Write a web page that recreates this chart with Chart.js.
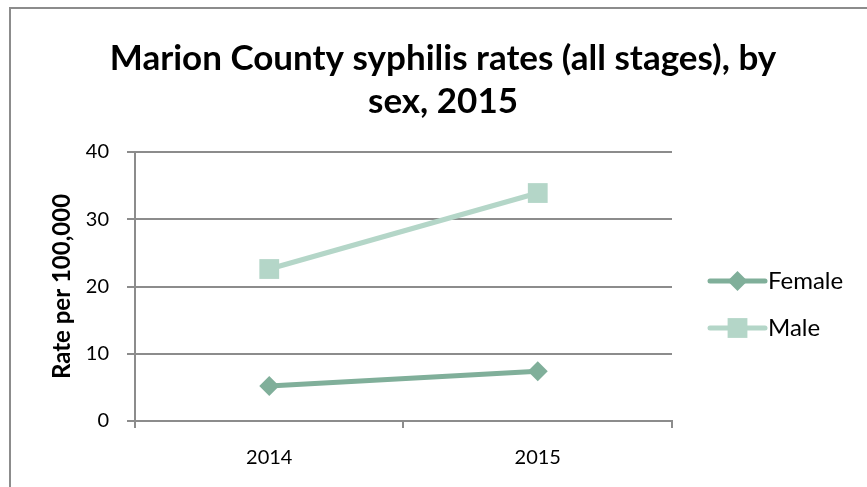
<!DOCTYPE html>
<html>
<head>
<meta charset="utf-8">
<script src="https://cdn.jsdelivr.net/npm/chart.js@4"></script>
<style>
    html, body { margin: 0; padding: 0; background: #fff; }
    #wrap { position: relative; width: 867px; height: 487px; }
    #frame { position: absolute; left: 9px; top: 7px; width: 900px; height: 478px;
             border-left: 2px solid #8c8c8c; border-top: 2px solid #8c8c8c; border-bottom: 1px solid #e4e4e4; }
    canvas { position: absolute; left: 0; top: 0; }
</style>
</head>
<body>
<div id="wrap">
    <div id="frame"></div>
    <canvas id="chart" width="867" height="487"></canvas>
</div>
<script>
const years = ['2014', '2015'];
const femaleRates = [5.2, 7.4];
const maleRates = [22.6, 33.9];
const yTicks = [0, 10, 20, 30, 40];
const titleLines = ['Marion County syphilis rates (all stages), by', 'sex, 2015'];

const fontFamily = 'Lato, "Open Sans", sans-serif';

// title centred on the whole frame, not on the plot
const frameTitle = {
    id: 'frameTitle',
    afterDraw(chart) {
        const ctx = chart.ctx;
        ctx.save();
        ctx.fillStyle = '#000';
        ctx.font = 'bold 35px ' + fontFamily;
        ctx.textAlign = 'center';
        ctx.textBaseline = 'alphabetic';
        ctx.fillText(titleLines[0], 443, 70);
        ctx.fillText(titleLines[1], 443, 113);
        ctx.restore();
    }
};

// legend drawn as line + marker, like the spreadsheet one
const lineLegend = {
    id: 'lineLegend',
    afterDraw(chart) {
        const ctx = chart.ctx;
        const x0 = 710, x1 = 765;
        const rows = [281, 328];
        chart.data.datasets.forEach((ds, i) => {
            const y = rows[i];
            ctx.save();
            ctx.strokeStyle = ds.borderColor;
            ctx.lineWidth = ds.borderWidth;
            ctx.lineCap = 'round';
            ctx.beginPath();
            ctx.moveTo(x0, y);
            ctx.lineTo(x1, y);
            ctx.stroke();
            ctx.fillStyle = ds.backgroundColor;
            Chart.helpers.drawPoint(ctx, {
                pointStyle: ds.pointStyle,
                radius: ds.pointRadius,
                rotation: 0,
                borderWidth: 0
            }, (x0 + x1) / 2, y);
            ctx.fillStyle = '#000';
            ctx.font = '24px ' + fontFamily;
            ctx.textBaseline = 'middle';
            ctx.fillText(ds.label, x1 + 3, y);
            ctx.restore();
        });
    }
};

new Chart(document.getElementById('chart').getContext('2d'), {
    type: 'line',
    data: {
        labels: years,
        datasets: [{
            label: 'Female',
            data: femaleRates,
            borderColor: '#80af9a',
            backgroundColor: '#80af9a',
            borderWidth: 5,
            pointStyle: 'rectRot',
            pointRadius: 10,
            pointHoverRadius: 10,
            pointBorderWidth: 0
        }, {
            label: 'Male',
            data: maleRates,
            borderColor: '#b4d6c8',
            backgroundColor: '#b4d6c8',
            borderWidth: 5,
            pointStyle: 'rect',
            pointRadius: 14,
            pointHoverRadius: 14,
            pointBorderWidth: 0
        }]
    },
    options: {
        responsive: false,
        animation: false,
        layout: { padding: { left: 27, right: 195, top: 152, bottom: -1 } },
        plugins: {
            legend: { display: false },
            tooltip: { enabled: false },
            title: { display: false }
        },
        scales: {
            x: {
                offset: true,
                grid: { offset: true, drawOnChartArea: false, drawTicks: true, tickLength: 7, color: '#8c8c8c', lineWidth: 2 },
                border: { color: '#8c8c8c', width: 2 },
                ticks: { color: '#000', font: { family: fontFamily, size: 20 }, padding: 18 }
            },
            y: {
                min: 0,
                max: 40,
                afterBuildTicks(axis) { axis.ticks = yTicks.map(v => ({ value: v })); },
                grid: { color: '#8c8c8c', lineWidth: 2, tickLength: 8 },
                border: { color: '#8c8c8c', width: 2 },
                ticks: { color: '#000', font: { family: fontFamily, size: 20 }, padding: 18 },
                title: {
                    display: true,
                    text: 'Rate per 100,000',
                    color: '#000',
                    font: { family: fontFamily, size: 24, weight: 'bold' },
                    padding: { top: 21, bottom: -9 }
                }
            }
        }
    },
    plugins: [frameTitle, lineLegend]
});
</script>
</body>
</html>
